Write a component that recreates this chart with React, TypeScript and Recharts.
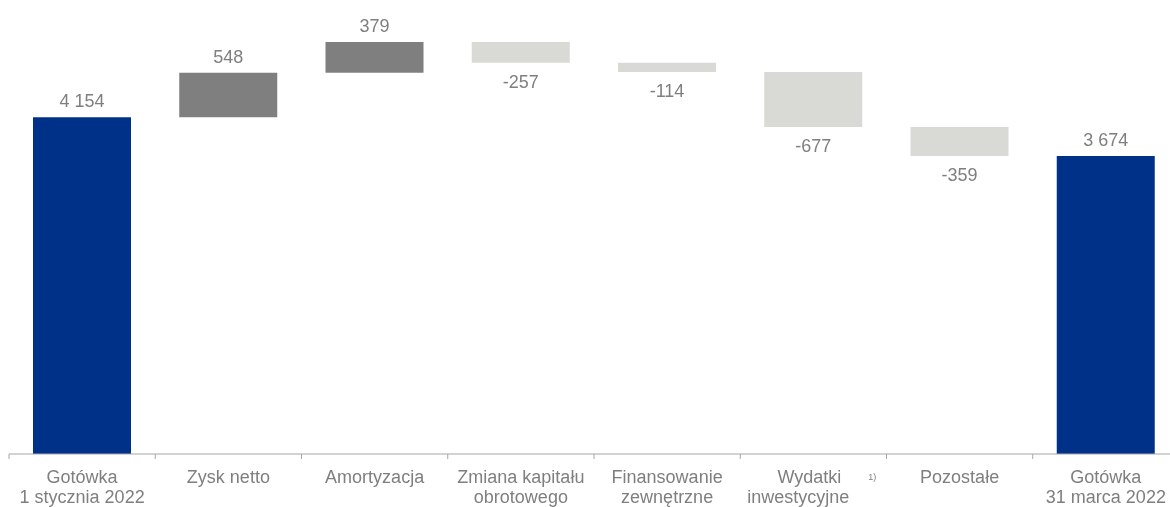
import React from 'react';
import { BarChart, Bar, XAxis, YAxis, Cell, LabelList } from 'recharts';

const categories = [
    'Gotówka\n1 stycznia 2022',
    'Zysk netto',
    'Amortyzacja',
    'Zmiana kapitału\nobrotowego',
    'Finansowanie\nzewnętrzne',
    'Wydatki\ninwestycyjne',
    'Pozostałe',
    'Gotówka\n31 marca 2022',
];
const changes = [4154, 548, 379, -257, -114, -677, -359, 3674];
const kinds = ['total', 'up', 'up', 'down', 'down', 'down', 'down', 'total'];
const footnotes = ['', '', '', '', '', '1)', '', ''];

const colors: any = { total: '#003189', up: '#7f7f7f', down: '#d9d9d6' };
const textColor = '#7f7f7f';
const axisColor = '#a6a6a6';
const font = '"Liberation Sans", Arial, sans-serif';

// running total -> invisible base + visible step
let running = 0;
const data = categories.map((name, i) => {
    const kind = kinds[i];
    const change = changes[i];
    let base = 0;
    let value = change;
    if (kind === 'up') {
        base = running;
        running += change;
    } else if (kind === 'down') {
        running += change;
        base = running;
        value = -change;
    } else {
        running = change;
    }
    return { name, base, value, change, kind };
});

const fmt = (v: number) => String(v).replace(/\B(?=(\d{3})+(?!\d))/g, ' ');

const StepLabel = (props: any) => {
    const { x, y, width, height, index } = props;
    const row = data[index];
    const cx = x + width / 2;
    const ty = row.kind === 'down' ? y + height + 25 : y - 10;
    return (
        <text x={cx} y={ty} textAnchor="middle" fill={textColor} fontSize={18} fontFamily={font}>
            {fmt(row.change)}
        </text>
    );
};

const CategoryTick = (props: any) => {
    const { x, y, payload, index, visibleTicksCount } = props;
    const count = visibleTicksCount || categories.length;
    const bw = (Number(props.width) || 1170) / count;
    const lines = String(payload.value).split('\n');
    const note = footnotes[index];
    const edges = [x - bw / 2];
    if (index === count - 1) edges.push(x + bw / 2);
    return (
        <g>
            {edges.map((ex, i) => (
                <line key={`e${i}`} x1={ex} x2={ex} y1={y} y2={y + 5} stroke={axisColor} strokeWidth={1} />
            ))}
            {lines.map((line, i) => (
                <text
                    key={i}
                    x={x + (note ? (i === 0 ? -4 : -15) : 0)}
                    y={y + 29 + i * 20}
                    textAnchor="middle"
                    fill={textColor}
                    fontSize={18}
                    fontFamily={font}
                >
                    {line}
                </text>
            ))}
            {note && (
                <text x={x + 59} y={y + 26} textAnchor="middle" fill={textColor} fontSize={9} fontFamily={font}>
                    {note}
                </text>
            )}
        </g>
    );
};

const App = () => {
    return (
        <div style={{ position: 'fixed', top: 8, left: 8, width: 1162, height: 499, overflow: 'hidden' }}>
            <BarChart
                width={1172}
                height={499}
                data={data}
                margin={{ top: 0, right: 1, bottom: 0, left: 1 }}
                barSize={98}
            >
                <XAxis
                    dataKey="name"
                    interval={0}
                    axisLine={{ stroke: axisColor }}
                    tickLine={false}
                    tickSize={0}
                    tickMargin={0}
                    height={53}
                    tick={<CategoryTick />}
                />
                <YAxis hide domain={[0, 5500]} />
                <Bar dataKey="base" stackId="w" fill="transparent" isAnimationActive={false} />
                <Bar dataKey="value" stackId="w" isAnimationActive={false}>
                    {data.map((entry, index) => (
                        <Cell key={`cell-${index}`} fill={colors[entry.kind]} />
                    ))}
                    <LabelList dataKey="value" content={<StepLabel />} />
                </Bar>
            </BarChart>
        </div>
    );
};

export default App;
